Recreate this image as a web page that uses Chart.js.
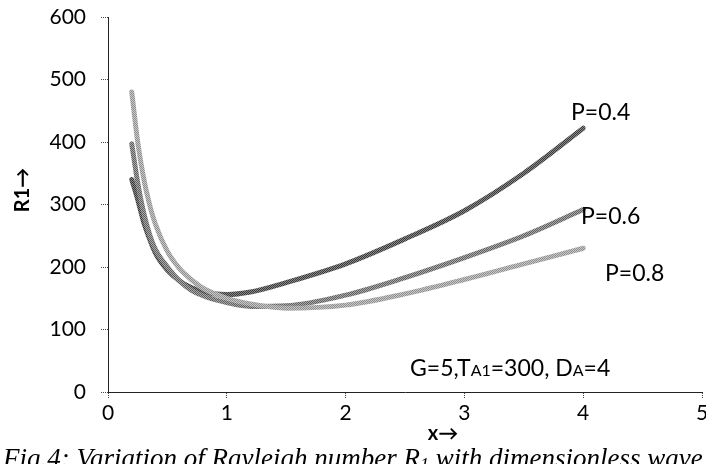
<!DOCTYPE html>
<html>
<head>
<meta charset="utf-8">
<script src="https://cdn.jsdelivr.net/npm/chart.js@4.4.0/dist/chart.umd.min.js"></script>
<style>
html,body{margin:0;padding:0;background:#fff;}
canvas{display:block;}
</style>
</head>
<body>
<canvas id="c" width="706" height="464"></canvas>
<script>
const xValues = [0.2, 0.25, 0.3, 0.35, 0.4, 0.5, 0.6, 0.7, 0.8, 1.0, 1.2, 1.5, 2.0, 2.5, 3.0, 3.5, 4.0];
const seriesP04 = [340, 308, 272, 245, 222, 195, 178, 167, 160, 156, 160, 175, 205, 245, 290, 350, 422];
const seriesP06 = [397, 335, 287, 252, 228, 200, 178, 163, 154, 143, 137, 138, 155, 183, 215, 250, 292];
const seriesP08 = [480, 400, 342, 300, 268, 225, 198, 180, 166, 150, 141, 134, 139, 157, 180, 205, 230];
const xTicks = [0, 1, 2, 3, 4, 5];
const yTicks = [0, 100, 200, 300, 400, 500, 600];
const seriesLabels = ['P=0.4', 'P=0.6', 'P=0.8'];

const FONT = "Lato, 'Open Sans', sans-serif";

function dither(c1, c2) {
  const p = document.createElement('canvas');
  p.width = 2; p.height = 2;
  const g = p.getContext('2d');
  g.fillStyle = c1; g.fillRect(0, 0, 2, 2);
  g.fillStyle = c2; g.fillRect(0, 0, 1, 1); g.fillRect(1, 1, 1, 1);
  return g.createPattern(p, 'repeat');
}

function pts(vals) { return xValues.map((x, i) => ({ x: x, y: vals[i] })); }

const textPlugin = {
  id: 'texts',
  afterDraw(chart) {
    const ctx = chart.ctx;
    ctx.save();
    ctx.fillStyle = '#000';
    ctx.textBaseline = 'alphabetic';
    // series labels
    ctx.font = "23px " + FONT;
    ctx.textAlign = 'left';
    ctx.fillText(seriesLabels[0], 571, 120);
    ctx.fillText(seriesLabels[1], 581, 224);
    ctx.fillText(seriesLabels[2], 605, 281);
    // parameter note with small-cap subscripts
    let x = 410; const by = 376;
    const big = "23px " + FONT, small = "16px " + FONT;
    const parts = [['G=5,T', big], ['A1', small], ['=300, D', big], ['A', small], ['=4', big]];
    for (const [t, f] of parts) { ctx.font = f; ctx.fillText(t, x, by); x += ctx.measureText(t).width; }
    // caption (italic serif, clipped at bottom)
    const capFont = "italic 27px 'Liberation Serif', 'DejaVu Serif', serif";
    ctx.font = capFont;
    const head = 'Fig.4: Variation of Rayleigh number R';
    ctx.fillText(head, 3, 467);
    const cw = ctx.measureText(head).width;
    ctx.font = "italic 18px 'Liberation Serif', serif";
    ctx.fillText('1', 3 + cw, 471);
    ctx.font = capFont;
    ctx.fillText(' with dimensionless wave number', 3 + cw + 9, 467);
    // axis titles
    ctx.font = "bold 20px " + FONT;
    ctx.textAlign = 'center';
    ctx.fillText('x\u2192', 443, 440);
    ctx.translate(29, 190);
    ctx.rotate(-Math.PI / 2);
    ctx.fillText('R1\u2192', 0, 0);
    ctx.restore();
  }
};

new Chart(document.getElementById('c'), {
  type: 'line',
  data: {
    datasets: [
      { label: seriesLabels[2], data: pts(seriesP08), borderColor: dither('#c8c8c8', '#8e8e8e'), borderWidth: 5 },
      { label: seriesLabels[1], data: pts(seriesP06), borderColor: dither('#a8a8a8', '#606060'), borderWidth: 5 },
      { label: seriesLabels[0], data: pts(seriesP04), borderColor: dither('#888888', '#3a3a3a'), borderWidth: 5 }
    ]
  },
  options: {
    responsive: false,
    animation: false,
    devicePixelRatio: 1,
    layout: { padding: { left: 0, right: 4, top: 17, bottom: 0 } },
    elements: {
      point: { radius: 0 },
      line: { cubicInterpolationMode: 'monotone', borderCapStyle: 'round', borderJoinStyle: 'round' }
    },
    plugins: { legend: { display: false }, tooltip: { enabled: false } },
    scales: {
      x: {
        type: 'linear', min: 0, max: 5,
        afterBuildTicks: s => { s.ticks = xTicks.map(v => ({ value: v })); },
        ticks: { color: '#000', font: { family: FONT, size: 21 }, padding: 3, maxRotation: 0, autoSkip: false },
        grid: { drawOnChartArea: false, tickLength: 6, color: '#444', tickBorderDash: [1, 1] },
        border: { color: '#222', dash: [1, 1] },
        afterFit: s => { s.height = 72; s.paddingLeft = 0; s.paddingRight = 0; }
      },
      y: {
        min: 0, max: 600,
        afterBuildTicks: s => { s.ticks = yTicks.map(v => ({ value: v })); },
        ticks: { color: '#000', font: { family: FONT, size: 21 }, padding: 15 },
        grid: { drawOnChartArea: false, tickLength: 7, color: '#444', tickBorderDash: [1, 1] },
        border: { color: '#222', dash: [1, 1] },
        afterFit: s => { s.width = 108; s.paddingTop = 0; s.paddingBottom = 0; }
      }
    }
  },
  plugins: [textPlugin]
});
</script>
</body>
</html>
